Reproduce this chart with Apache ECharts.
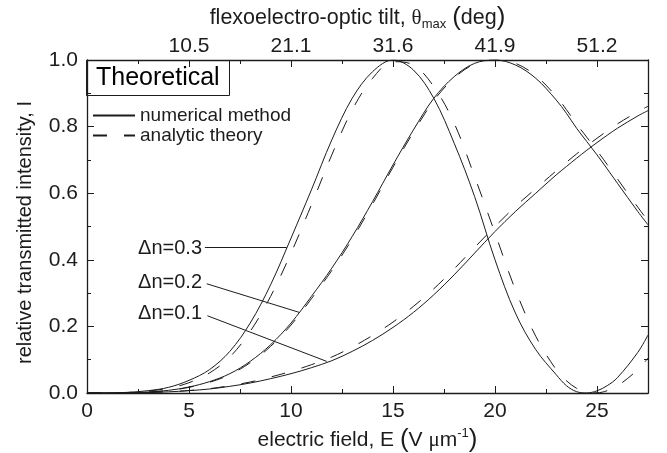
<!DOCTYPE html>
<html><head><meta charset="utf-8">
<script src="https://cdn.jsdelivr.net/npm/echarts@6/dist/echarts.min.js"></script>
<style>html,body{margin:0;padding:0;background:#fff}#c{width:667px;height:453px}</style>
</head><body><div id="c"></div>
<script>
// electric field E (V/um) sample points
const fieldE = [0,1,2,3,4,5,6,7,8,9,10,11,12,13,14,15,16,17,18,19,20,21,22,23,23.5,24,24.5,25,25.5,26,27,27.5];
// numerical method
const num03 = [0,0.0003,0.002,0.007,0.017,0.038,0.07,0.125,0.21,0.325,0.465,0.61,0.76,0.885,0.965,1.0,0.97,0.885,0.75,0.59,0.40,0.24,0.13,0.055,0.022,0.004,0.0003,0.0065,0.022,0.046,0.122,0.174];
const num02 = [0,0.0001,0.0008,0.003,0.008,0.018,0.034,0.058,0.095,0.145,0.21,0.29,0.375,0.47,0.575,0.685,0.79,0.885,0.95,0.99,1.0,0.985,0.945,0.88,0.84,0.795,0.755,0.715,0.673,0.63,0.545,0.505];
const num01 = [0,0.0001,0.0005,0.0015,0.0035,0.007,0.012,0.02,0.03,0.043,0.058,0.076,0.097,0.125,0.158,0.197,0.242,0.295,0.355,0.42,0.485,0.545,0.6,0.655,0.68,0.705,0.729,0.752,0.774,0.795,0.832,0.848];
// analytic theory
const ana03 = [0,0.0002,0.0015,0.006,0.014,0.031,0.06,0.108,0.185,0.29,0.42,0.565,0.715,0.85,0.945,0.995,0.985,0.92,0.81,0.65,0.48,0.31,0.17,0.07,0.037,0.014,0.002,0.0006,0.007,0.021,0.07,0.105];
const ana02 = [0,0.0001,0.0007,0.0028,0.0075,0.017,0.032,0.055,0.091,0.14,0.204,0.283,0.368,0.462,0.567,0.678,0.783,0.878,0.946,0.988,1.0,0.99,0.953,0.891,0.851,0.808,0.768,0.728,0.686,0.643,0.558,0.517];
const ana01 = [0,0.0001,0.0005,0.0016,0.0037,0.0075,0.013,0.022,0.033,0.048,0.065,0.085,0.108,0.138,0.173,0.213,0.26,0.313,0.373,0.437,0.5,0.56,0.614,0.667,0.693,0.718,0.742,0.765,0.787,0.808,0.845,0.861];
// top axis: tilt angle labels at field values
const thetaAtField = [5,10,15,20,25];
const thetaLabels = ['10.5','21.1','31.6','41.9','51.2'];
// curve labels and leader lines (data coords: from [E,I] to [E,I])
const curveLabels = ['\u0394n=0.3','\u0394n=0.2','\u0394n=0.1'];
const leaderLines = [[5.78,0.438,9.79,0.438],[5.87,0.328,10.41,0.242],[5.9,0.232,11.75,0.095]];

const FONT = '"Liberation Sans", Arial, Helvetica, sans-serif';
const INK = '#1c1c1c';
const DASH = [14,17];
const chart = echarts.init(document.getElementById('c'));
function pts(vals){ return fieldE.map((x,i)=>[x, vals[i]]); }
const lineAx = {show:true, onZero:false, lineStyle:{color:INK, width:1.3}};
const tickSty = {color:INK, width:1};
const richName = {
  p:{fontSize:26, fontFamily:FONT, color:INK},
  g:{fontSize:21, fontFamily:'"Liberation Serif", serif', color:INK},
  sup:{fontSize:13, fontFamily:FONT, color:INK, verticalAlign:'top'},
  sub:{fontSize:13, fontFamily:FONT, color:INK, verticalAlign:'bottom'}
};
function mkSeries(name, vals, dashed, extra){
  return Object.assign({
    type:'line', name:name, data:pts(vals), xAxisIndex:0, yAxisIndex:0,
    symbol:'none', showSymbol:false, smooth:0.35, silent:true,
    itemStyle:{color:INK},
    lineStyle:{color:INK, width:1, type: dashed ? DASH : 'solid'},
    emphasis:{disabled:true}
  }, extra||{});
}
const option = {
  animation:false,
  backgroundColor:'#fff',
  title:{text:'Theoretical', left:86, top:60, padding:[4,10,4,10], borderWidth:1, borderColor:INK,
    textStyle:{fontSize:25, fontWeight:'normal', fontFamily:FONT, color:'#000', lineHeight:28}},
  legend:{data:['numerical method','analytic theory'], orient:'vertical', left:92, top:106,
    itemWidth:42, itemHeight:20, itemGap:1, padding:0, selectedMode:false,
    itemStyle:{opacity:0, borderWidth:0},
    textStyle:{fontSize:19, fontFamily:FONT, color:INK}},
  grid:{left:87, right:19, top:60, bottom:60, containLabel:false, outerBoundsMode:'none'},
  xAxis:[
    {type:'value', position:'bottom', min:0, max:27.5, interval:2.5, axisLine:lineAx,
     axisTick:{show:true, inside:true, length:4, lineStyle:tickSty}, axisLabel:{show:false}, splitLine:{show:false}},
    {type:'value', position:'bottom', min:0, max:27.5, interval:5, axisLine:{show:false, onZero:false},
     axisTick:{show:true, inside:true, length:7, lineStyle:tickSty},
     axisLabel:{formatter:v=> (v%5===0 ? String(v) : ''), fontSize:21, margin:8, color:INK, fontFamily:FONT},
     splitLine:{show:false},
     name:'electric field, E {p|(}V {g|\u03bc}m{sup|-1}{p|)}', nameLocation:'middle', nameGap:34,
     nameTextStyle:{fontSize:21, fontFamily:FONT, color:INK, rich:richName}},
    {type:'value', position:'top', min:0, max:27.5, interval:2.5, axisLine:lineAx,
     axisTick:{show:true, inside:true, length:4, lineStyle:tickSty}, axisLabel:{show:false}, splitLine:{show:false}},
    {type:'value', position:'top', min:0, max:27.5, interval:5, axisLine:{show:false, onZero:false},
     axisTick:{show:true, inside:true, length:7, lineStyle:tickSty},
     axisLabel:{formatter:v=>{const k=thetaAtField.indexOf(v); return k>=0?thetaLabels[k]:'';}, fontSize:21, margin:3, color:INK, fontFamily:FONT},
     splitLine:{show:false},
     name:'flexoelectro-optic tilt, {g|\u03b8}{sub|max} {p|(}deg{p|)}', nameLocation:'middle', nameGap:25,
     nameTextStyle:{fontSize:21.5, fontFamily:FONT, color:INK, padding:[0,20,0,0], rich:richName}}
  ],
  yAxis:[
    {type:'value', position:'left', min:0, max:1, interval:0.2, axisLine:lineAx,
     axisTick:{show:true, inside:true, length:7, lineStyle:tickSty},
     minorTick:{show:true, splitNumber:2, length:4, lineStyle:tickSty},
     axisLabel:{formatter:v=>v.toFixed(1), fontSize:21, margin:9, color:INK, fontFamily:FONT},
     splitLine:{show:false}, minorSplitLine:{show:false},
     name:'relative transmitted intensity, I', nameLocation:'middle', nameGap:52, nameRotate:90,
     nameTextStyle:{fontSize:20, fontFamily:FONT, color:INK, padding:[0,12,0,0]}},
    {type:'value', position:'right', min:0, max:1, interval:0.2, axisLine:lineAx,
     axisTick:{show:true, inside:true, length:7, lineStyle:tickSty},
     minorTick:{show:true, splitNumber:2, length:4, lineStyle:tickSty},
     axisLabel:{show:false}, splitLine:{show:false}, minorSplitLine:{show:false}}
  ],
  graphic: curveLabels.map((t,i)=>({type:'text', x:202, y:[248,282,313][i], silent:true,
    style:{text:t, fill:INK, font:'20px "Liberation Sans", Arial, sans-serif', align:'right', verticalAlign:'middle'}})),
  series:[
    mkSeries('numerical method', num03, false),
    mkSeries('numerical method', num02, false),
    mkSeries('numerical method', num01, false, {
      markLine:{silent:true, animation:false, symbol:['none','none'], label:{show:false},
        lineStyle:{color:INK, width:1, type:'solid'}, emphasis:{disabled:true},
        data: leaderLines.map(l=>[{coord:[l[0],l[1]]},{coord:[l[2],l[3]]}])}
    }),
    mkSeries('analytic theory', ana03, true),
    mkSeries('analytic theory', ana02, true),
    mkSeries('analytic theory', ana01, true)
  ]
};
chart.setOption(option);
</script></body></html>
